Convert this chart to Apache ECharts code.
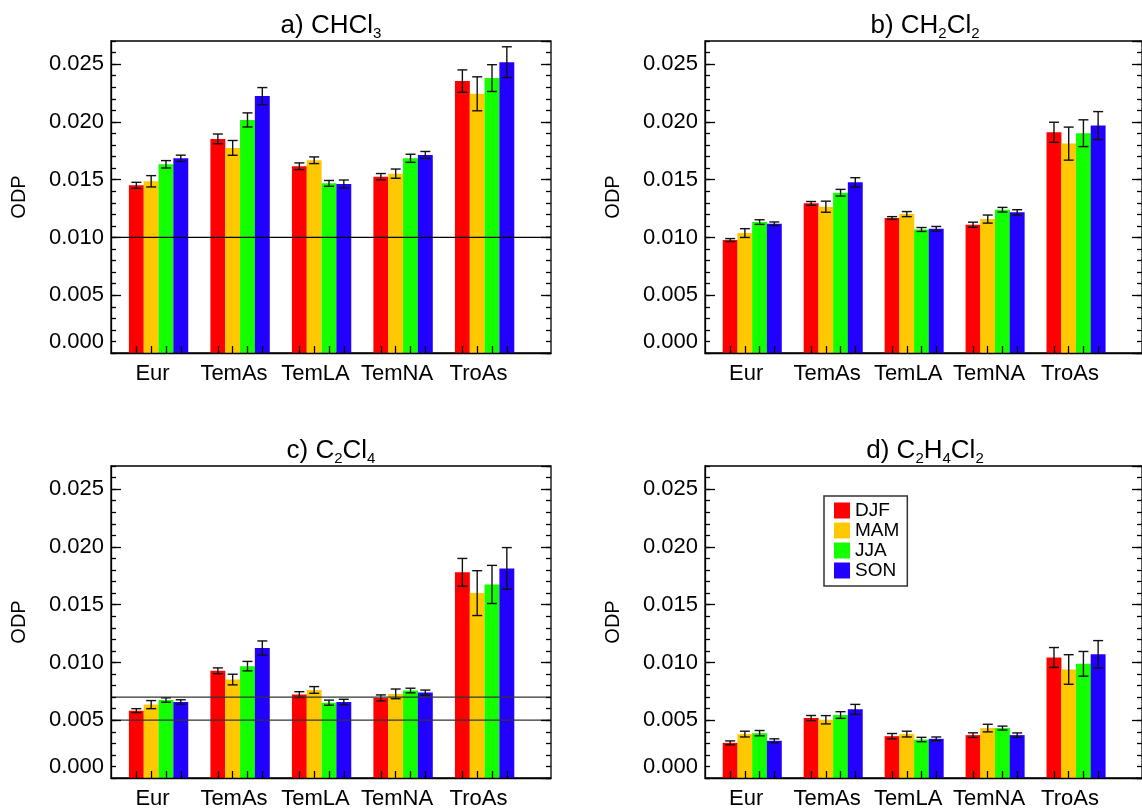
<!DOCTYPE html>
<html>
<head>
<meta charset="utf-8">
<script src="https://cdn.jsdelivr.net/npm/echarts@6/dist/echarts.min.js"></script>
<style>
html,body{margin:0;padding:0;background:#fff;}
#chart{width:1142px;height:811px;}
</style>
</head>
<body>
<div id="chart"></div>
<script>
// ---------- data ----------
const categories = ['Eur', 'TemAs', 'TemLA', 'TemNA', 'TroAs'];
const seasons = ['DJF', 'MAM', 'JJA', 'SON'];
const seasonColors = ['#FF0000', '#FFC800', '#14FF00', '#2200FF'];
const yTickLabels = ['0.000', '0.005', '0.010', '0.015', '0.020', '0.025'];

// a) CHCl3
const chcl3_DJF = [0.01451, 0.01853, 0.01616, 0.01526, 0.02353];
const chcl3_MAM = [0.01486, 0.01775, 0.01668, 0.01552, 0.02243];
const chcl3_JJA = [0.01633, 0.02017, 0.01468, 0.01685, 0.02379];
const chcl3_SON = [0.01685, 0.02223, 0.01462, 0.01714, 0.02517];
const chcl3_DJF_err = [0.00026, 0.00042, 0.00029, 0.00027, 0.00097];
const chcl3_MAM_err = [0.00049, 0.00064, 0.00029, 0.00040, 0.00147];
const chcl3_JJA_err = [0.00032, 0.00061, 0.00025, 0.00035, 0.00116];
const chcl3_SON_err = [0.00027, 0.00074, 0.00035, 0.00030, 0.00133];

// b) CH2Cl2
const ch2cl2_DJF = [0.00977, 0.01295, 0.01168, 0.01110, 0.01910];
const ch2cl2_MAM = [0.01038, 0.01266, 0.01202, 0.01159, 0.01812];
const ch2cl2_JJA = [0.01133, 0.01387, 0.01069, 0.01240, 0.01902];
const ch2cl2_SON = [0.01118, 0.01477, 0.01075, 0.01217, 0.01968];
const ch2cl2_DJF_err = [0.00013, 0.00016, 0.00012, 0.00022, 0.00087];
const ch2cl2_MAM_err = [0.00038, 0.00048, 0.00022, 0.00035, 0.00143];
const ch2cl2_JJA_err = [0.00020, 0.00029, 0.00017, 0.00020, 0.00116];
const ch2cl2_SON_err = [0.00016, 0.00040, 0.00020, 0.00023, 0.00121];

// c) C2Cl4
const c2cl4_DJF = [0.00583, 0.00928, 0.00722, 0.00693, 0.01780];
const c2cl4_MAM = [0.00635, 0.00852, 0.00762, 0.00728, 0.01600];
const c2cl4_JJA = [0.00675, 0.00968, 0.00652, 0.00757, 0.01675];
const c2cl4_SON = [0.00658, 0.01125, 0.00658, 0.00739, 0.01814];
const c2cl4_DJF_err = [0.00017, 0.00025, 0.00025, 0.00026, 0.00120];
const c2cl4_MAM_err = [0.00035, 0.00046, 0.00029, 0.00042, 0.00194];
const c2cl4_JJA_err = [0.00019, 0.00041, 0.00022, 0.00020, 0.00165];
const c2cl4_SON_err = [0.00019, 0.00061, 0.00023, 0.00022, 0.00180];

// d) C2H4Cl2
const c2h4cl2_DJF = [0.00304, 0.00519, 0.00362, 0.00371, 0.01043];
const c2h4cl2_MAM = [0.00380, 0.00504, 0.00380, 0.00432, 0.00939];
const c2h4cl2_JJA = [0.00388, 0.00545, 0.00333, 0.00432, 0.00988];
const c2h4cl2_SON = [0.00322, 0.00594, 0.00339, 0.00371, 0.01070];
const c2h4cl2_DJF_err = [0.00017, 0.00022, 0.00023, 0.00020, 0.00086];
const c2h4cl2_MAM_err = [0.00025, 0.00036, 0.00025, 0.00033, 0.00128];
const c2h4cl2_JJA_err = [0.00023, 0.00029, 0.00019, 0.00017, 0.00107];
const c2h4cl2_SON_err = [0.00017, 0.00043, 0.00016, 0.00019, 0.00119];

// reference lines
const refLinesA = [0.010];
const refLinesC = [0.007, 0.005];

// ---------- layout ----------
const FONT = 'Liberation Sans, Arial, Helvetica, sans-serif';
const panels = [
  {title: '{m|a) CHCl}{s|3}', vals: [chcl3_DJF, chcl3_MAM, chcl3_JJA, chcl3_SON],
   errs: [chcl3_DJF_err, chcl3_MAM_err, chcl3_JJA_err, chcl3_SON_err],
   lines: refLinesA, lineColor: '#000', left: 111, top: 41},
  {title: '{m|b) CH}{s|2}{m|Cl}{s|2}', vals: [ch2cl2_DJF, ch2cl2_MAM, ch2cl2_JJA, ch2cl2_SON],
   errs: [ch2cl2_DJF_err, ch2cl2_MAM_err, ch2cl2_JJA_err, ch2cl2_SON_err],
   lines: [], lineColor: '#000', left: 705, top: 41},
  {title: '{m|c) C}{s|2}{m|Cl}{s|4}', vals: [c2cl4_DJF, c2cl4_MAM, c2cl4_JJA, c2cl4_SON],
   errs: [c2cl4_DJF_err, c2cl4_MAM_err, c2cl4_JJA_err, c2cl4_SON_err],
   lines: refLinesC, lineColor: '#333', left: 111, top: 466},
  {title: '{m|d) C}{s|2}{m|H}{s|4}{m|Cl}{s|2}', vals: [c2h4cl2_DJF, c2h4cl2_MAM, c2h4cl2_JJA, c2h4cl2_SON],
   errs: [c2h4cl2_DJF_err, c2h4cl2_MAM_err, c2h4cl2_JJA_err, c2h4cl2_SON_err],
   lines: [], lineColor: '#000', left: 705, top: 466}
];
const GW = 440, GH = 312;
const X_MAX = 29.69, FIRST = 1.71, GROUP_STEP = 5.5, LABEL_OFF = 2.8;
const Y_MIN = 0, Y_MAX = 0.027;
const BAR_W = 14.9;

const barCenters = [];
categories.forEach((c, g) => seasons.forEach((s, k) => barCenters.push(FIRST + GROUP_STEP * g + k)));
const labelPos = categories.map((c, g) => LABEL_OFF + GROUP_STEP * g);

const option = {
  animation: false,
  backgroundColor: '#fff',
  title: [], grid: [], xAxis: [], yAxis: [], series: [],
  legend: {
    data: seasons, left: 824, top: 496, orient: 'vertical',
    itemWidth: 16, itemHeight: 16, itemGap: 1, icon: 'rect',
    padding: [5, 8, 6, 10], borderColor: '#333', borderWidth: 1.5,
    textStyle: {fontSize: 19, color: '#000', fontFamily: FONT}
  }
};

const tickStyle = {color: '#000', width: 1.3};
panels.forEach((p, i) => {
  option.title.push({
    text: p.title, left: p.left + GW / 2, top: p.top - 30, textAlign: 'center', padding: 0,
    textStyle: {fontWeight: 'normal', rich: {
      m: {fontSize: 26, fontWeight: 'normal', fontFamily: FONT, color: '#000', lineHeight: 30},
      s: {fontSize: 15, fontWeight: 'normal', fontFamily: FONT, color: '#000', lineHeight: 12, verticalAlign: 'bottom'}
    }}
  });
  option.grid.push({left: p.left, top: p.top, width: GW, height: GH, show: true,
    borderColor: '#000', borderWidth: 1.3, backgroundColor: 'transparent'});
  option.xAxis.push({
    type: 'value', gridIndex: i, min: 0, max: X_MAX, z: 10,
    axisLine: {show: true, onZero: false, lineStyle: tickStyle},
    axisTick: {show: true, inside: true, length: 7, customValues: barCenters, lineStyle: tickStyle},
    axisLabel: {show: true, customValues: labelPos, fontSize: 22, color: '#000', fontFamily: FONT, margin: 10,
      formatter: v => categories[Math.round((v - LABEL_OFF) / GROUP_STEP)] || ''},
    splitLine: {show: false}
  });
  const yBase = option.yAxis.length;
  const common = {type: 'value', gridIndex: i, min: Y_MIN, max: Y_MAX, z: 10, splitLine: {show: false}};
  // left major ticks + labels
  option.yAxis.push(Object.assign({}, common, {
    position: 'left', interval: 0.005,
    axisLine: {show: true, lineStyle: tickStyle},
    axisTick: {show: true, inside: true, length: 10, lineStyle: tickStyle},
    axisLabel: {show: true, fontSize: 22, color: '#000', fontFamily: FONT, margin: 7,
      showMinLabel: false, showMaxLabel: false,
      formatter: v => { const k = Math.round(v / 0.005); return (k > 0 && k < yTickLabels.length) ? yTickLabels[k] : ''; }},
    name: 'ODP', nameLocation: 'middle', nameRotate: 90, nameGap: 82,
    nameTextStyle: {fontSize: 20, color: '#000', fontFamily: FONT}
  }));
  // left minor ticks
  option.yAxis.push(Object.assign({}, common, {
    position: 'left', interval: 0.001, axisLine: {show: false},
    axisTick: {show: true, inside: true, length: 5, lineStyle: tickStyle}, axisLabel: {show: false}
  }));
  // zero label sitting on the bottom
  option.yAxis.push(Object.assign({}, common, {
    position: 'left', interval: 0.005, axisLine: {show: false}, axisTick: {show: false},
    axisLabel: {show: true, fontSize: 22, color: '#000', fontFamily: FONT, margin: 7, verticalAlign: 'bottom',
      showMaxLabel: false, formatter: v => (Math.abs(v) < 1e-9 ? yTickLabels[0] : '')}
  }));
  // right major/minor ticks
  option.yAxis.push(Object.assign({}, common, {
    position: 'right', interval: 0.005, axisLine: {show: false},
    axisTick: {show: true, inside: true, length: 10, lineStyle: tickStyle}, axisLabel: {show: false}
  }));
  option.yAxis.push(Object.assign({}, common, {
    position: 'right', interval: 0.001, axisLine: {show: false},
    axisTick: {show: true, inside: true, length: 5, lineStyle: tickStyle}, axisLabel: {show: false}
  }));

  const errData = [];
  seasons.forEach((s, k) => {
    option.series.push({
      type: 'bar', name: s, xAxisIndex: i, yAxisIndex: yBase,
      barWidth: BAR_W, barGap: '-100%',
      itemStyle: {color: seasonColors[k]},
      data: p.vals[k].map((v, g) => [FIRST + GROUP_STEP * g + k, v])
    });
    p.vals[k].forEach((v, g) => {
      const e = p.errs[k][g];
      errData.push([FIRST + GROUP_STEP * g + k, v - e, v + e]);
    });
  });
  option.series.push({
    type: 'custom', xAxisIndex: i, yAxisIndex: yBase, z: 5,
    encode: {x: 0, y: [1, 2]},
    data: errData,
    renderItem: (params, api) => {
      const x = api.value(0);
      const pHi = api.coord([x, api.value(2)]);
      const pLo = api.coord([x, api.value(1)]);
      const hw = 5;
      const st = {stroke: '#111', lineWidth: 1.4, fill: null};
      return {type: 'group', children: [
        {type: 'line', shape: {x1: pHi[0], y1: pHi[1], x2: pLo[0], y2: pLo[1]}, style: st},
        {type: 'line', shape: {x1: pHi[0] - hw, y1: pHi[1], x2: pHi[0] + hw, y2: pHi[1]}, style: st},
        {type: 'line', shape: {x1: pLo[0] - hw, y1: pLo[1], x2: pLo[0] + hw, y2: pLo[1]}, style: st}
      ]};
    }
  });
  // horizontal reference lines across the full panel width
  p.lines.forEach(v => {
    option.series.push({
      type: 'line', xAxisIndex: i, yAxisIndex: yBase, z: 6, silent: true,
      symbol: 'none', lineStyle: {color: p.lineColor, width: 1.3},
      data: [[0, v], [X_MAX, v]]
    });
  });
});

const chart = echarts.init(document.getElementById('chart'), null, {renderer: 'canvas'});
chart.setOption(option);
</script>
</body>
</html>
